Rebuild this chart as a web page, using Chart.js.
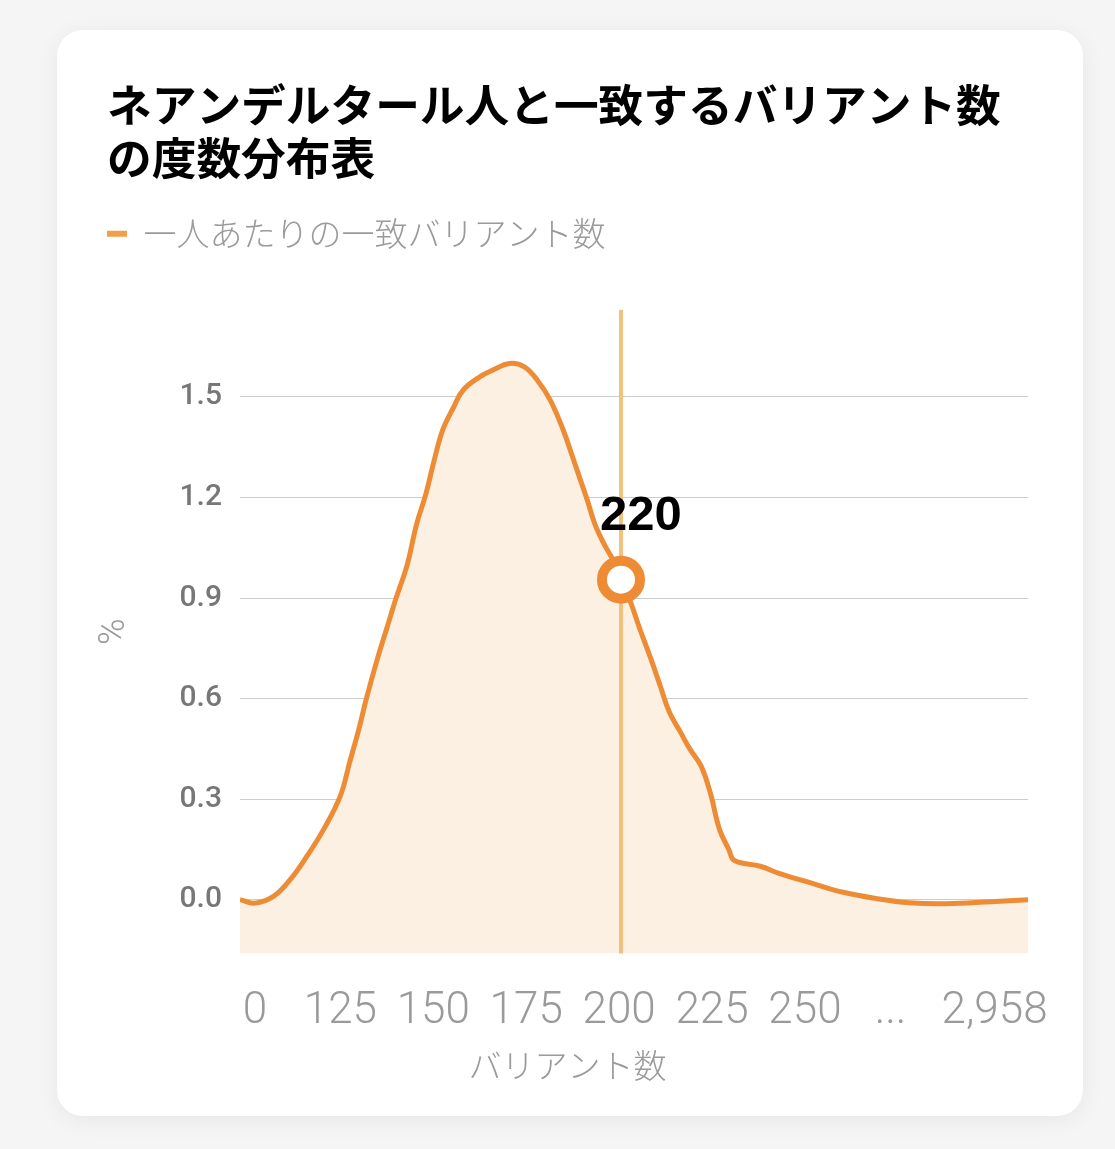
<!DOCTYPE html>
<html lang="ja">
<head>
<meta charset="utf-8">
<script src="https://cdn.jsdelivr.net/npm/chart.js@4.4.1/dist/chart.umd.min.js"></script>
<style>
  html, body { margin: 0; padding: 0; background: #f5f5f5; }
  body { width: 1115px; height: 1149px; position: relative; overflow: hidden; }
  .card {
    position: absolute; left: 57px; top: 30px; width: 1026px; height: 1086px;
    background: #fff; border-radius: 26px;
    box-shadow: 0 4px 24px rgba(0, 0, 0, 0.06);
    overflow: hidden;
  }
  canvas { display: block; }
</style>
</head>
<body>
<div class="card">
  <canvas id="mycanvas" width="1026" height="1086"></canvas>
</div>
<script>
// 度数分布 (x: バリアント数の軸上の位置, y: %)
var variantCounts = [98, 102, 107, 111.5, 116, 120.5, 125, 127.5, 130, 132,
  135, 137.5, 140, 143, 145.5, 148, 150, 152.5, 155.5, 158,
  162.5, 166, 170.5, 174.5, 178, 181.5, 185, 187.5, 189.5, 191.5,
  193.5, 196, 198.5, 200.5, 203, 205.5, 208.5, 211, 213.5, 216.5,
  219, 222, 224.5, 227, 229.5, 231, 238, 243, 252, 260,
  269, 278, 288, 300, 310];
var percentages = [0.00, -0.01, 0.01, 0.06, 0.13, 0.21, 0.31, 0.41, 0.51, 0.60,
  0.72, 0.81, 0.90, 1.00, 1.12, 1.21, 1.30, 1.40, 1.47, 1.52,
  1.56, 1.58, 1.60, 1.59, 1.55, 1.49, 1.40, 1.32, 1.255, 1.19,
  1.12, 1.06, 1.01, 0.955, 0.89, 0.81, 0.72, 0.64, 0.56, 0.50,
  0.45, 0.40, 0.32, 0.21, 0.15, 0.117, 0.10, 0.079, 0.049, 0.023,
  0.004, -0.009, -0.012, -0.006, 0.00];

// x軸の目盛り
var xTickPos = [102, 125, 150, 175, 200, 225, 250, 273, 301];
var xTickLabels = ['0', '125', '150', '175', '200', '225', '250', '...', '2,958'];
var yTicks = [0, 0.3, 0.6, 0.9, 1.2, 1.5];

// 自分の位置
var markerCount = [200.5];
var markerPercent = [0.955];
var markerLabel = '220';

var orange = '#ee8b35';
var grayText = '#9a9a9a';

var legendMargin = {
  id: 'legendMargin',
  beforeInit: function(chart) {
    var fitValue = chart.legend.fit;
    chart.legend.fit = function() {
      fitValue.bind(chart.legend)();
      this.height += 49.5;
    };
  }
};

var markerLine = {
  id: 'markerLine',
  afterDatasetDraw: function(chart, args) {
    if (args.index !== 0) return;
    var ctx = chart.ctx;
    var x = chart.scales.x.getPixelForValue(markerCount[0]);
    ctx.save();
    ctx.strokeStyle = '#f3c07f';
    ctx.lineWidth = 4;
    ctx.beginPath();
    ctx.moveTo(x, chart.chartArea.top);
    ctx.lineTo(x, chart.chartArea.bottom);
    ctx.stroke();
    ctx.restore();
  },
  afterDatasetsDraw: function(chart) {
    var ctx = chart.ctx;
    var x = chart.scales.x.getPixelForValue(markerCount[0]);
    var y = chart.scales.y.getPixelForValue(markerPercent[0]);
    ctx.save();
    ctx.fillStyle = '#000';
    ctx.font = 'bold 49px "Liberation Sans", Arial, sans-serif';
    ctx.textAlign = 'center';
    ctx.textBaseline = 'middle';
    ctx.fillText(markerLabel, x + 20, y - 63);
    ctx.restore();
  }
};

var chartdata = {
  datasets: [
    {
      label: '一人あたりの一致バリアント数',
      data: variantCounts.map(function(v, i) { return {x: v, y: percentages[i]}; }),
      borderColor: orange,
      borderWidth: 5,
      backgroundColor: '#fcf0e2',
      fill: 'start',
      tension: 0.4,
      pointRadius: 0,
      order: 0
    },
    {
      label: 'marker',
      data: markerCount.map(function(v, i) { return {x: v, y: markerPercent[i]}; }),
      showLine: false,
      pointRadius: 19,
      borderWidth: 10,
      borderColor: orange,
      backgroundColor: '#fff',
      pointBackgroundColor: '#fff',
      order: -1
    }
  ]
};

var ctx = document.getElementById('mycanvas');

var lineGraph = new Chart(ctx, {
  type: 'line',
  data: chartdata,
  plugins: [legendMargin, markerLine],
  options: {
    responsive: false,
    animation: false,
    layout: { padding: { left: 50, right: 55, top: 0, bottom: 0 } },
    plugins: {
      tooltip: { enabled: false },
      title: {
        display: true,
        align: 'start',
        text: ['ネアンデルタール人と一致するバリアント数', 'の度数分布表'],
        color: '#000',
        font: { family: '"Noto Sans CJK JP", sans-serif', size: 44.7, weight: 'bold', lineHeight: 1.18 },
        padding: { top: 48.5, bottom: 33.3 }
      },
      legend: {
        display: true,
        align: 'start',
        labels: {
          padding: 0,
          boxWidth: 20,
          boxHeight: 6,
          color: grayText,
          font: { family: '"Noto Sans CJK JP", sans-serif', size: 33, weight: 300 },
          filter: function(item) { return item.datasetIndex === 0; },
          generateLabels: function(chart) {
            var items = Chart.defaults.plugins.legend.labels.generateLabels(chart);
            items.forEach(function(it) {
              it.fillStyle = '#f0a04a';
              it.strokeStyle = '#f0a04a';
              it.lineWidth = 0;
            });
            return items;
          }
        }
      },
      subtitle: {
        display: true,
        position: 'bottom',
        text: 'バリアント数',
        color: grayText,
        font: { family: '"Noto Sans CJK JP", sans-serif', size: 33, weight: 300, lineHeight: 1.2 },
        padding: { top: 0, bottom: 31 }
      }
    },
    scales: {
      x: {
        type: 'linear',
        min: 98,
        max: 310,
        afterBuildTicks: function(scale) {
          scale.ticks = xTickPos.map(function(v) { return {value: v}; });
        },
        afterFit: function(scale) { scale.height = 92; },
        ticks: {
          autoSkip: false,
          maxRotation: 0,
          padding: 32,
          color: grayText,
          font: { family: 'Roboto, sans-serif', size: 44, weight: 300 },
          callback: function(value, index) { return xTickLabels[index]; }
        },
        grid: { display: false, drawTicks: false },
        border: { display: false }
      },
      y: {
        min: -0.16,
        max: 1.76,
        afterBuildTicks: function(scale) {
          scale.ticks = yTicks.map(function(v) { return {value: v}; });
        },
        afterFit: function(scale) { scale.width = 133; },
        ticks: {
          padding: 18,
          color: '#777777',
          font: { family: 'Roboto, sans-serif', size: 30, weight: 500 },
          callback: function(value) { return value.toFixed(1); }
        },
        grid: { color: '#cccccc', lineWidth: 1, drawTicks: false },
        border: { display: false },
        title: {
          display: true,
          text: '%',
          color: grayText,
          font: { family: 'Roboto, sans-serif', size: 36, weight: 300 },
          padding: { top: -14, bottom: 0 }
        }
      }
    }
  }
});
</script>
</body>
</html>
